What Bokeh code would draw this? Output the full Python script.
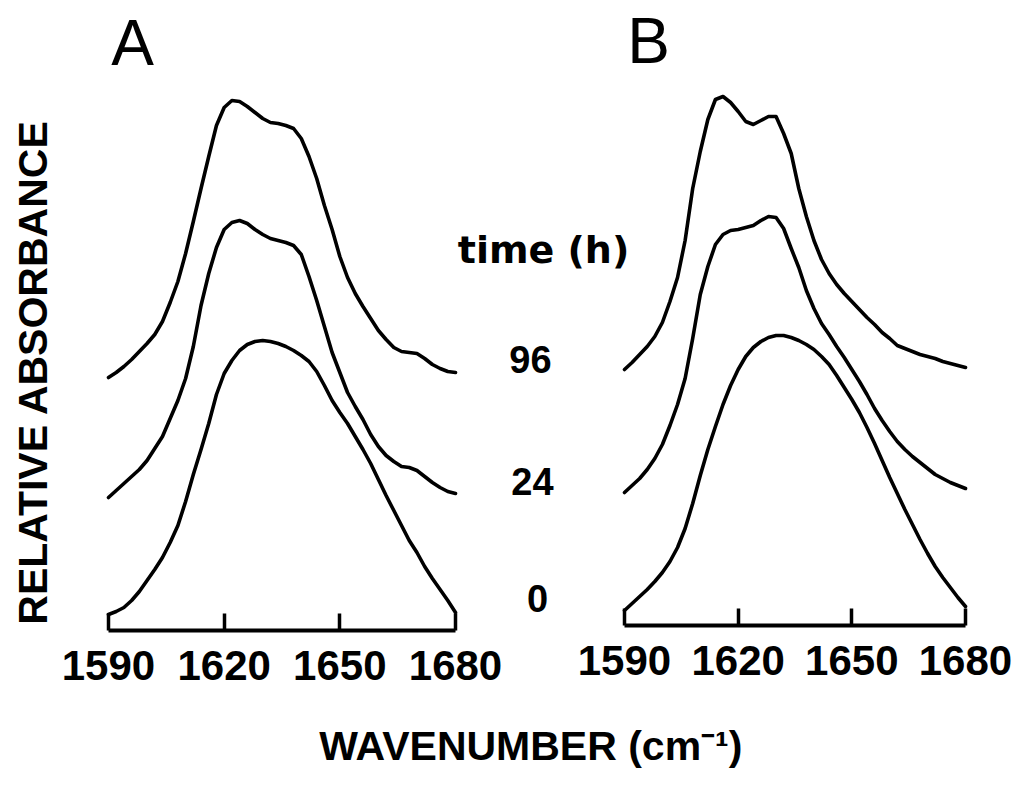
import numpy as np
from bokeh.plotting import figure
from bokeh.models import Range1d, LinearAxis, FixedTicker
from bokeh.embed import file_html
from bokeh.resources import INLINE
from bokeh.core.properties import value

# ---------------- data ----------------
WAVENUMBER = list(range(1590, 1681, 2))          # cm-1
TICKS = [1590, 1620, 1650, 1680]
TIME_LABELS = ["96", "24", "0"]

# relative absorbance (arbitrary units), each spectrum on its own baseline
A_0H = [16, 19, 23, 30, 39, 50, 61, 73, 88, 105, 129, 156, 181, 207, 236, 257, 270, 280, 286, 289,
        290, 289, 287, 284, 280, 275, 269, 259, 245, 230, 218, 207, 194, 181, 167, 151, 135, 120, 105, 90,
        78, 64, 52, 41, 30, 18]
A_24H = [13, 20, 27, 34, 41, 50, 62, 74, 92, 110, 132, 164, 205, 237, 263, 281, 288, 290, 287, 281,
         276, 272, 270, 268, 265, 256, 234, 210, 184, 158, 138, 118, 104, 91, 76, 64, 55, 49, 44, 43,
         40, 34, 28, 23, 19, 17]
A_96H = [13, 18, 24, 31, 39, 47, 56, 69, 88, 109, 137, 169, 202, 234, 265, 283, 290, 289, 284, 278,
         272, 268, 267, 265, 262, 252, 234, 212, 185, 161, 134, 113, 97, 84, 72, 60, 51, 43, 39, 38,
         37, 32, 26, 22, 19, 18]

B_0H = [15, 22, 29, 36, 44, 53, 64, 78, 97, 122, 150, 176, 199, 221, 240, 256, 269, 278, 284, 288,
        290, 290, 288, 285, 281, 276, 269, 261, 250, 238, 226, 213, 198, 182, 165, 148, 132, 116, 101, 86,
        72, 59, 48, 38, 28, 19]
B_24H = [13, 20, 27, 36, 47, 61, 80, 101, 127, 167, 211, 239, 261, 271, 275, 276, 278, 280, 285, 289,
         288, 277, 257, 238, 215, 197, 182, 171, 159, 148, 136, 124, 111, 97, 85, 74, 64, 56, 49, 43,
         37, 31, 27, 23, 20, 17]
B_96H = [16, 23, 31, 39, 49, 63, 84, 108, 145, 197, 234, 266, 286, 289, 283, 274, 264, 261, 265, 269,
         269, 252, 232, 197, 169, 145, 126, 112, 101, 92, 84, 76, 68, 61, 53, 47, 40, 37, 34, 31,
         29, 27, 24, 22, 20, 18]

# vertical stacking of the spectra (display offset)
STACK_OFFSET = {"0": 0, "24": 120, "96": 240}

# ---------------- figure ----------------
p = figure(width=1036, height=791, output_backend="svg", toolbar_location=None, tools="",
           x_axis_location=None, y_axis_location=None,
           x_range=Range1d(1561.99, 1830.69), y_range=Range1d(-161, 630))
p.min_border_left = p.min_border_right = p.min_border_top = p.min_border_bottom = 0
p.outline_line_color = None
p.xgrid.visible = False
p.ygrid.visible = False
p.background_fill_color = "white"
p.border_fill_color = "white"
p.extra_x_ranges = {"xb": Range1d(1425.31, 1698.74)}
p.extra_y_ranges = {"yb": Range1d(-166, 625)}

wn = np.array(WAVENUMBER, dtype=float)
for key, arr in (("0", A_0H), ("24", A_24H), ("96", A_96H)):
    p.line(wn, np.array(arr, dtype=float) + STACK_OFFSET[key], line_color="black",
           line_width=3.6, line_join="round", line_cap="round")
for key, arr in (("0", B_0H), ("24", B_24H), ("96", B_96H)):
    p.line(wn, np.array(arr, dtype=float) + STACK_OFFSET[key], line_color="black",
           line_width=3.6, line_join="round", line_cap="round",
           x_range_name="xb", y_range_name="yb")


def make_axis(**kw):
    ax = LinearAxis(fixed_location=0, bounds=(1590, 1680), ticker=FixedTicker(ticks=TICKS),
                    major_tick_in=17, major_tick_out=0, minor_tick_in=0, minor_tick_out=0,
                    axis_line_width=4, axis_line_color="black",
                    major_tick_line_width=3.5, major_tick_line_color="black",
                    major_label_text_font="Liberation Sans", major_label_text_font_style="bold",
                    major_label_text_font_size="42px", major_label_text_color="black",
                    major_label_standoff=20, **kw)
    return ax


p.add_layout(make_axis(), "below")
p.add_layout(make_axis(x_range_name="xb", y_range_name="yb"), "below")


# pixel -> data helpers for text placement (panel A ranges)
def dx(px):
    return 1561.99 + px * (1830.69 - 1561.99) / 1036.0


def dy(py):
    return 630 - py


def txt(px, py, s, font, size, style="bold", angle=0.0):
    p.text(x=[dx(px)], y=[dy(py)], text=[s], text_font=value(font), text_font_size=size,
           text_font_style=style, text_align="center", text_baseline="alphabetic",
           text_color="black", angle=angle)


txt(132, 42, "A", "Liberation Sans", "64px", "normal")
txt(648, 40, "B", "Liberation Sans", "64px", "normal")
txt(543, 249, "time (h)", "DejaVu Sans", "38px")
for lbl, (px, py) in zip(TIME_LABELS, [(530, 359), (532, 481), (537, 598)]):
    txt(px, py, lbl, "Liberation Sans", "38px")
txt(32, 366, "RELATIVE  ABSORBANCE", "Liberation Sans", "41px", angle=np.pi / 2)
txt(536, 745, "WAVENUMBER  (cm\u207b\u00b9)", "Liberation Sans", "41px")

open("out.html", "w").write(file_html(p, INLINE))
